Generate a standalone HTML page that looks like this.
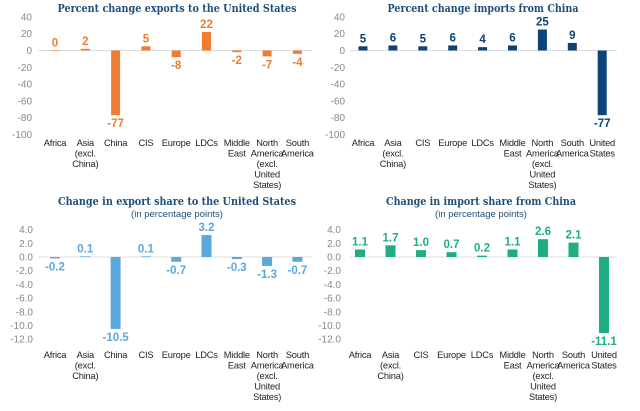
<!DOCTYPE html>
<html><head><meta charset="utf-8"><style>
body{margin:0;background:#fff;width:640px;height:411px;overflow:hidden}
svg{display:block}
.t{font-family:"DejaVu Serif","Liberation Serif",serif;font-weight:bold;font-size:11.5px;fill:#1f4e79}
.s{font-family:"Liberation Sans",sans-serif;font-size:9.5px;fill:#1f4e79}
.tk{font-family:"Liberation Sans",sans-serif;font-size:10px;fill:#888}
.c{font-family:"Liberation Sans",sans-serif;font-size:9.3px;letter-spacing:-0.2px;fill:#222}
.v{font-family:"Liberation Sans",sans-serif;font-weight:bold;font-size:11.5px}
</style></head><body>
<svg id="root" width="640" height="411"></svg>
<script>
const cats1=["Africa","Asia|(excl.|China)","China","CIS","Europe","LDCs","Middle|East","North|America|(excl.|United|States)","South|America"];
const cats2=["Africa","Asia|(excl.|China)","CIS","Europe","LDCs","Middle|East","North|America|(excl.|United|States)","South|America","United|States"];
const valsExp=[0,2,-77,5,-8,22,-2,-7,-4];
const valsImp=[5,6,5,6,4,6,25,9,-77];
const valsExpShare=[-0.2,0.1,-10.5,0.1,-0.7,3.2,-0.3,-1.3,-0.7];
const valsImpShare=[1.1,1.7,1.0,0.7,0.2,1.1,2.6,2.1,-11.1];
const ticksPct=[40,20,0,-20,-40,-60,-80,-100];
const ticksPP=[4,2,0,-2,-4,-6,-8,-10,-12];
const NS="http://www.w3.org/2000/svg";
const root=document.getElementById('root');
function mk(tag,attrs,parent,text){const e=document.createElementNS(NS,tag);for(const k in attrs)e.setAttribute(k,attrs[k]);if(text!==undefined)e.textContent=text;parent.appendChild(e);return e;}
function chart(cfg){
  const g=mk('g',{},root);
  
  
  const y=v=>cfg.y0+(v)*cfg.k*-1;
  const x=i=>cfg.x0+i*cfg.dx;
  const t=mk('text',{x:cfg.tx,y:cfg.ty,'text-anchor':'middle',class:'t',textLength:cfg.tl,lengthAdjust:'spacingAndGlyphs'},g,cfg.title);
  
  
  if(cfg.sub){const s=mk('text',{x:cfg.tx,y:cfg.ty+12,'text-anchor':'middle',class:'s'},g,cfg.sub);
    
    }
  cfg.ticks.forEach(tv=>{const e=mk('text',{x:cfg.lx,y:y(tv)+3.5,'text-anchor':'end',class:'tk'},g,cfg.dec?tv.toFixed(1):String(tv));
    
    });
  const ax=mk('line',{x1:cfg.ax1,x2:cfg.ax2,y1:y(0),y2:y(0),stroke:'#ddd','stroke-width':1},g);
  
  
  cfg.vals.forEach((v,i)=>{
    const cx=x(i),top=Math.min(y(0),y(v)),h=Math.max(Math.abs(y(v)-y(0)),0.6);
    const r=mk('rect',{x:cx-cfg.bw/2,y:top,width:cfg.bw,height:h,fill:cfg.color},g);
    
    
    const ly=v>=0?y(v)-4:y(v)+12;
    const lab=mk('text',{x:cx,y:ly,'text-anchor':'middle',class:'v',fill:cfg.color},g,cfg.dec?v.toFixed(1):String(v));
    
    
  });
  cfg.cats.forEach((c,i)=>{
    const tx=mk('text',{x:x(i),y:cfg.cy,'text-anchor':'middle',class:'c'},g);
    
    
    c.split('|').forEach((ln,j)=>mk('tspan',{x:x(i),dy:j?10.5:0},tx,ln));
  });
}
chart({name:'exports-to-us-chart',title:'Percent change exports to the United States',tl:239,tx:177,ty:12,ticks:ticksPct,vals:valsExp,cats:cats1,color:'#ee7d31',bw:9,y0:50.5,k:0.84,x0:55,dx:30.3,lx:32,ax1:38,ax2:312,cy:146});
chart({name:'imports-from-china-chart',title:'Percent change imports from China',tl:191,tx:483,ty:12,ticks:ticksPct,vals:valsImp,cats:cats2,color:'#0d4379',bw:9,y0:50.5,k:0.84,x0:363,dx:29.9,lx:345,ax1:350,ax2:617,cy:146});
chart({name:'export-share-us-chart',title:'Change in export share to the United States',tl:238,tx:177,ty:205,sub:'(in percentage points)',dec:true,ticks:ticksPP,vals:valsExpShare,cats:cats1,color:'#5ba8dc',bw:10,y0:257,k:6.85,x0:55,dx:30.3,lx:33,ax1:38,ax2:312,cy:358});
chart({name:'import-share-china-chart',title:'Change in import share from China',tl:190,tx:481,ty:205,sub:'(in percentage points)',dec:true,ticks:ticksPP,vals:valsImpShare,cats:cats2,color:'#1fae84',bw:10,y0:257,k:6.85,x0:360,dx:30.5,lx:341,ax1:350,ax2:617,cy:358});
</script>
</body></html>
